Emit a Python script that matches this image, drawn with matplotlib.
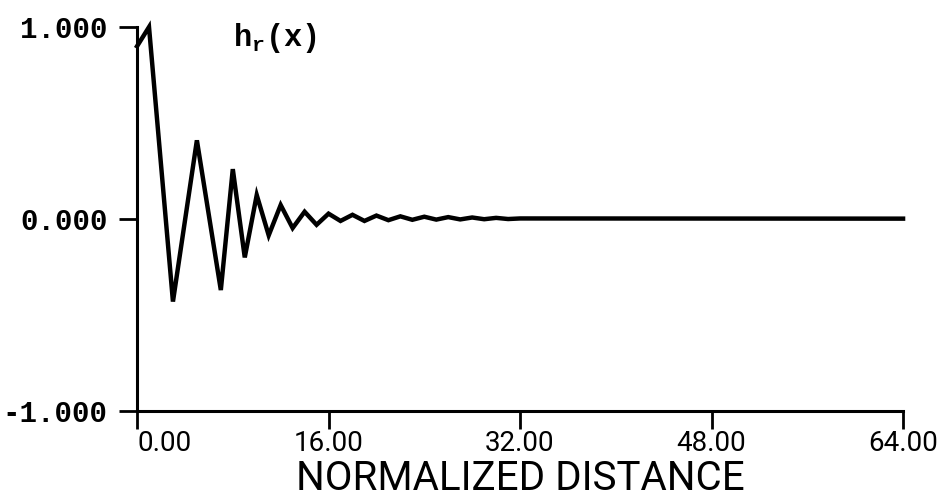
import matplotlib
matplotlib.use("Agg")
import matplotlib.pyplot as plt

# impulse response samples, h_r(x) against normalized distance
dist = [0, 1, 3, 5, 7, 8, 9, 10, 11, 12, 13, 14, 15, 16, 17, 18, 19, 20,
        21, 22, 23, 24, 25, 26, 27, 28, 29, 30, 31, 32, 64]
h_r = [0.90, 1.00, -0.43, 0.41, -0.37, 0.26, -0.20, 0.125, -0.085, 0.073,
       -0.047, 0.038, -0.030, 0.028, -0.010, 0.022, -0.010, 0.018, -0.006,
       0.014, -0.004, 0.012, -0.003, 0.010, -0.002, 0.008, -0.001, 0.006,
       0.000, 0.003, 0.002]

x_ticks = [0, 16, 32, 48, 64]
x_tick_labels = ["0.00", "16.00", "32.00", "48.00", "64.00"]
y_ticks = [-1, 0, 1]
y_tick_labels = ["-1.000", "0.000", "1.000"]

plt.rcParams["mathtext.fontset"] = "custom"
plt.rcParams["mathtext.rm"] = "Liberation Mono:bold"

fig = plt.figure(figsize=(9.53, 4.97), dpi=100)
ax = fig.add_axes([0.1438, 0.1730, 0.8038, 0.7726])

ax.plot(dist, h_r, color="black", lw=3.2, solid_joinstyle="miter",
        clip_on=False)

ax.set_xlim(0, 64)
ax.set_ylim(-1, 1)

for side in ("top", "right"):
    ax.spines[side].set_visible(False)
for side in ("left", "bottom"):
    ax.spines[side].set_linewidth(2.2)

ax.set_xticks(x_ticks)
ax.set_xticklabels(x_tick_labels, family="Roboto", fontsize=20)
ax.get_xticklabels()[0].set_ha("left")
ax.set_yticks(y_ticks)
ax.set_yticklabels(y_tick_labels, family="Liberation Mono",
                   fontweight="bold", fontsize=21)
ax.tick_params(axis="both", direction="out", length=13, width=2,
               color="black")
ax.tick_params(axis="x", pad=1)
ax.tick_params(axis="y", pad=8)

ax.set_xlabel("NORMALIZED DISTANCE", family="Roboto", fontsize=29,
              labelpad=1)

ax.text(8.0, 0.90, r"$\mathrm{h_r(x)}$", fontsize=22, ha="left",
        va="baseline", clip_on=False)

fig.savefig("out.png", dpi=100)
